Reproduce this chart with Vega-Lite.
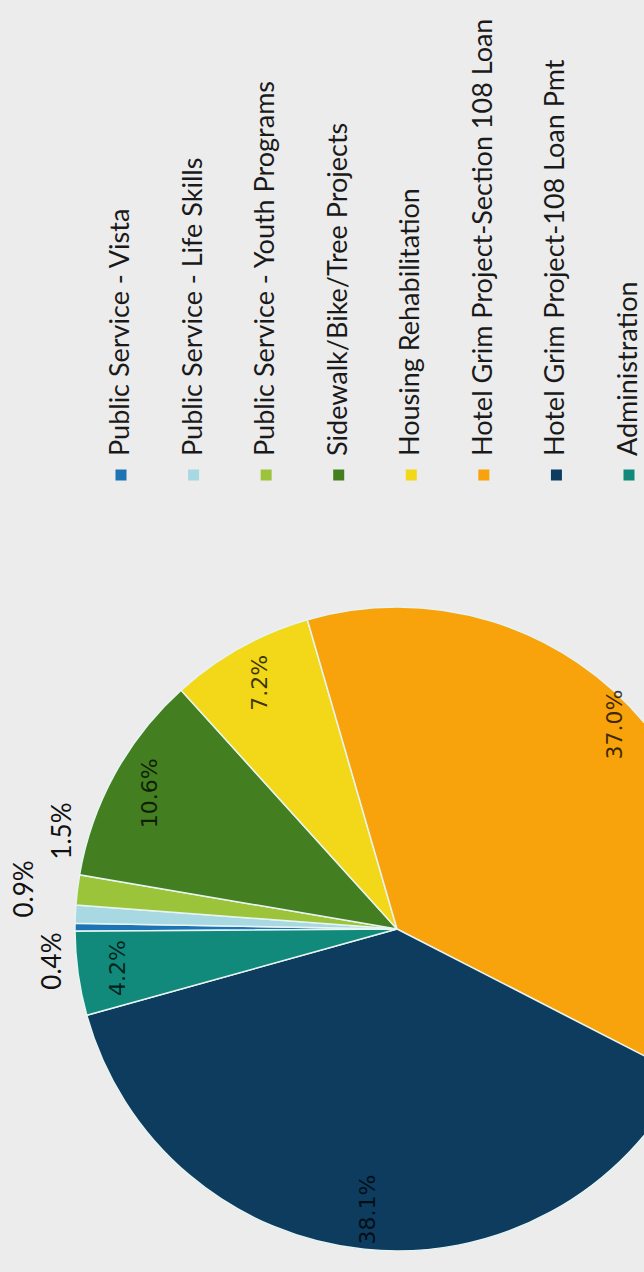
{
  "$schema": "https://vega.github.io/schema/vega-lite/v6.json",
  "width": 644,
  "height": 1272,
  "autosize": "none",
  "padding": 0,
  "background": "#ececec",
  "config": {"view": {"stroke": null}},
  "data": {"values": [
    {"cat": "Public Service - Vista", "pct": 0.4, "ord": 1, "lbl": "0.4%"},
    {"cat": "Public Service - Life Skills", "pct": 0.9, "ord": 2, "lbl": "0.9%"},
    {"cat": "Public Service - Youth Programs", "pct": 1.5, "ord": 3, "lbl": "1.5%"},
    {"cat": "Sidewalk/Bike/Tree Projects", "pct": 10.6, "ord": 4, "lbl": "10.6%"},
    {"cat": "Housing Rehabilitation", "pct": 7.2, "ord": 5, "lbl": "7.2%"},
    {"cat": "Hotel Grim Project-Section 108 Loan", "pct": 37.0, "ord": 6, "lbl": "37.0%"},
    {"cat": "Hotel Grim Project-108 Loan Pmt", "pct": 38.1, "ord": 7, "lbl": "38.1%"},
    {"cat": "Administration", "pct": 4.2, "ord": 8, "lbl": "4.2%"}
  ]},
  "layer": [
    {
      "encoding": {
        "theta": {"field": "pct", "type": "quantitative", "stack": true, "scale": {"range": [4.7054, 10.9886]}},
        "order": {"field": "ord", "type": "quantitative"},
        "detail": {"field": "cat", "type": "nominal"}
      },
      "layer": [
        {
          "mark": {"type": "arc", "x": 397, "y": 929, "radius": 322, "stroke": "#e6f4f2", "strokeWidth": 1.5},
          "encoding": {
            "color": {
              "field": "cat", "type": "nominal", "legend": null,
              "scale": {
                "domain": ["Public Service - Vista", "Public Service - Life Skills", "Public Service - Youth Programs", "Sidewalk/Bike/Tree Projects", "Housing Rehabilitation", "Hotel Grim Project-Section 108 Loan", "Hotel Grim Project-108 Loan Pmt", "Administration"],
                "range": ["#1c74b4", "#a8d8e2", "#9cc43a", "#437e20", "#f3d81a", "#f8a20c", "#0d3c5e", "#118a7b"]
              }
            }
          }
        },
        {
          "mark": {"type": "text", "x": 397, "y": 929, "radius": 282, "angle": 270, "font": "DejaVu Sans", "fontSize": 22, "fill": "#000", "align": "center", "baseline": "middle"},
          "encoding": {
            "text": {"field": "lbl"},
            "opacity": {"condition": {"test": "datum.pct >= 4 && datum.ord != 6", "value": 0.75}, "value": 0}
          }
        },
        {
          "mark": {"type": "text", "x": 397, "y": 929, "radius": 282, "angle": 270, "font": "DejaVu Sans", "fontSize": 22, "fill": "#000", "align": "center", "baseline": "middle", "dx": 25, "dy": 0},
          "encoding": {
            "text": {"field": "lbl"},
            "opacity": {"condition": {"test": "datum.ord == 6", "value": 0.75}, "value": 0}
          }
        },
        {
          "mark": {"type": "text", "x": 397, "y": 929, "radius": 345, "angle": 270, "font": "Lato", "fontSize": 26, "fill": "#111", "align": "center", "baseline": "middle", "dx": 56, "dy": 8},
          "encoding": {
            "text": {"field": "lbl"},
            "opacity": {"condition": {"test": "datum.ord == 3", "value": 1}, "value": 0}
          }
        },
        {
          "mark": {"type": "text", "x": 397, "y": 929, "radius": 345, "angle": 270, "font": "Lato", "fontSize": 26, "fill": "#111", "align": "center", "baseline": "middle", "dx": 24, "dy": -27},
          "encoding": {
            "text": {"field": "lbl"},
            "opacity": {"condition": {"test": "datum.ord == 2", "value": 1}, "value": 0}
          }
        },
        {
          "mark": {"type": "text", "x": 397, "y": 929, "radius": 345, "angle": 270, "font": "Lato", "fontSize": 26, "fill": "#111", "align": "center", "baseline": "middle", "dx": -34, "dy": 1},
          "encoding": {
            "text": {"field": "lbl"},
            "opacity": {"condition": {"test": "datum.ord == 1", "value": 1}, "value": 0}
          }
        }
      ]
    },
    {
      "mark": {"type": "text", "y": 456, "angle": 270, "font": "Lato", "fontSize": 27, "fill": "#1a1a1a", "align": "left", "baseline": "middle"},
      "encoding": {
        "x": {"field": "cat", "type": "nominal", "sort": {"field": "ord", "op": "min"}, "axis": null, "scale": {"type": "point", "range": [121, 629], "padding": 0}},
        "text": {"field": "cat"}
      }
    },
    {
      "mark": {"type": "square", "y": 475, "size": 121, "filled": true, "opacity": 1},
      "encoding": {
        "x": {"field": "cat", "type": "nominal", "sort": {"field": "ord", "op": "min"}, "axis": null, "scale": {"type": "point", "range": [121, 629], "padding": 0}},
        "color": {"field": "cat", "type": "nominal", "legend": null}
      }
    }
  ]
}
